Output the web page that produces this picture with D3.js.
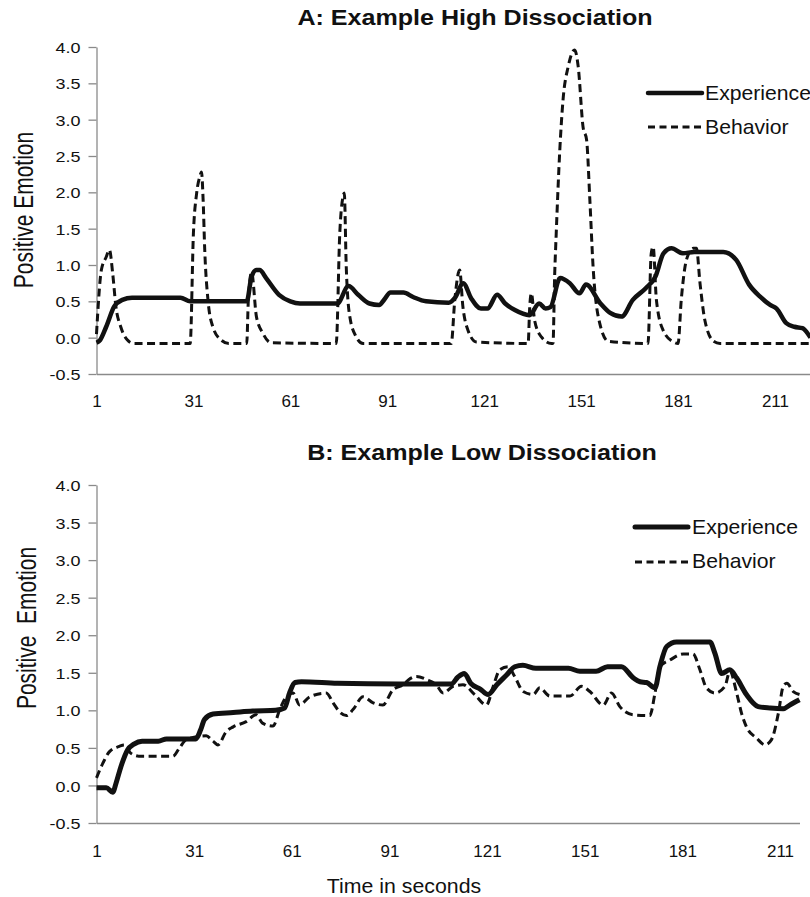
<!DOCTYPE html>
<html>
<head>
<meta charset="utf-8">
<script src="https://cdn.jsdelivr.net/npm/d3@7"></script>
<style>
  html, body { margin: 0; padding: 0; background: #fff; }
  svg { display: block; font-family: "Liberation Sans", Arial, sans-serif; }
</style>
</head>
<body>
<div id="chart"></div>
<script>
// tick labels
const xTicks = [1, 31, 61, 91, 121, 151, 181, 211];
const yTicks = [-0.5, 0, 0.5, 1, 1.5, 2, 2.5, 3, 3.5, 4];
const seriesNames = ["Experience", "Behavior"];

// Panel A: [second, positive emotion]
const experienceA = [
  [1,-0.07],[2,-0.04],[4,0.15],[6.5,0.43],[9,0.52],[12,0.55],[27,0.55],[30,0.5],[47.5,0.5],
  [49,0.84],[50.5,0.93],[51.5,0.93],[53.5,0.82],[57.5,0.59],[61,0.5],[64,0.47],[75.5,0.47],
  [79,0.71],[82,0.59],[85.5,0.47],[88.5,0.45],[90,0.52],[92,0.62],[96,0.62],[99,0.56],[103,0.5],
  [110,0.48],[112,0.55],[114.5,0.75],[117,0.54],[120,0.4],[122,0.4],[125,0.59],[127.5,0.47],
  [130.5,0.38],[135,0.31],[138,0.47],[140,0.4],[141.5,0.42],[144.5,0.82],[147.5,0.75],
  [150.5,0.61],[152.5,0.73],[157,0.47],[160,0.34],[163.5,0.29],[167,0.52],[171,0.68],
  [174,0.84],[176.5,1.16],[179,1.23],[182.5,1.16],[186,1.18],[195,1.18],[199,1.07],[203,0.73],
  [206.5,0.56],[209.5,0.45],[211.5,0.4],[214.5,0.2],[217,0.15],[219.5,0.13],[222,0.0]
];
const behaviorA = [
  [1,0.05],[2.5,0.93],[4,1.11],[5,1.21],[6,0.89],[7,0.43],[8.5,0.15],[10.5,-0.03],[12.5,-0.08],
  [30,-0.08],[31,1.44],[32,1.99],[33,2.22],[33.5,2.28],[34,1.9],[34.5,1.21],[35.5,0.52],[37,0.15],
  [39.5,-0.03],[42,-0.08],[47.5,-0.08],[48,0.52],[49,0.9],[50.5,0.29],[52.5,0.06],[55,-0.07],
  [75.2,-0.08],[76.3,1.44],[77.3,1.94],[77.7,1.99],[78.3,0.98],[79.4,0.29],[81.4,0.01],[83.5,-0.08],
  [110.8,-0.08],[111.9,0.52],[113.4,0.93],[114.4,0.43],[116,0.1],[118.6,-0.06],
  [134.6,-0.08],[135.1,0.43],[135.6,0.61],[136.6,0.24],[138.7,0.01],[141.8,-0.08],[142.3,-0.08],
  [142.8,0.84],[143.3,1.44],[144.4,2.58],[145.4,3.27],[147,3.73],[149,3.96],[150.1,3.73],
  [151.6,2.9],[152.7,2.72],[153.7,1.9],[154.7,0.98],[156.3,0.29],[159.4,-0.05],
  [171.7,-0.08],[172.7,1.16],[173.3,1.25],[174.3,0.52],[176.4,0.1],[179.6,-0.06],[181,-0.08],
  [182,0.52],[183.6,1.07],[185.7,1.23],[186.7,1.23],[187.8,0.75],[189.3,0.24],[192,-0.05],
  [194,-0.08],[222,-0.08]
];

// Panel B
const experienceB = [
  [1,-0.03],[4,-0.03],[6,-0.09],[7,0.03],[8.5,0.25],[10.5,0.47],[12.5,0.55],[15,0.59],[20,0.59],
  [22.5,0.62],[31.5,0.62],[33,0.74],[34.2,0.88],[36.8,0.95],[43,0.97],[49,0.99],[56,1.0],
  [58.8,1.03],[60.3,1.23],[62,1.37],[64,1.38],[75,1.36],[94,1.35],[110,1.35],[112,1.44],
  [114,1.49],[116,1.36],[119,1.28],[121.3,1.21],[124,1.34],[127,1.47],[129.5,1.58],[132,1.6],
  [136,1.56],[146,1.56],[149.5,1.52],[154.5,1.52],[158,1.58],[162.3,1.58],[166,1.43],[168,1.38],
  [170,1.37],[172.6,1.3],[174.1,1.58],[176.2,1.85],[179.2,1.91],[189.5,1.91],[191,1.76],
  [193.1,1.49],[195.6,1.54],[197.7,1.43],[200.7,1.21],[204.3,1.05],[208,1.03],[212,1.02],
  [214,1.07],[217,1.14]
];
const behaviorB = [
  [1,0.1],[3,0.3],[5,0.45],[8,0.52],[9.5,0.54],[11.5,0.43],[14,0.39],[24.5,0.39],[26.5,0.5],
  [28.6,0.61],[34.7,0.66],[36.8,0.59],[38.3,0.54],[40.9,0.72],[43,0.78],[47,0.85],[50,0.94],
  [52,0.83],[55.2,0.79],[57.3,1.01],[59.3,1.18],[61.4,1.23],[63.4,1.07],[66.5,1.18],[71.6,1.23],
  [73.7,1.1],[75.7,0.98],[77.8,0.93],[79.8,1.01],[82.9,1.18],[86,1.1],[89,1.07],[92,1.27],
  [95.2,1.34],[97,1.41],[99.3,1.45],[102.4,1.41],[105.4,1.34],[107.5,1.23],[110.6,1.32],
  [113.6,1.34],[117.2,1.21],[120.8,1.07],[122.9,1.32],[124.9,1.54],[127.5,1.58],[129.5,1.45],
  [132.1,1.25],[135.2,1.21],[137.2,1.3],[140.3,1.19],[146.5,1.19],[150,1.32],[152.6,1.25],
  [156.7,1.07],[159.2,1.23],[161.8,1.05],[165.9,0.94],[171,0.93],[172.6,1.23],[174.1,1.58],
  [177.2,1.67],[181.3,1.75],[184.3,1.75],[186.4,1.54],[188.4,1.3],[191,1.23],[194.1,1.32],
  [195.6,1.52],[197.7,1.23],[199.2,0.96],[200.7,0.78],[203.8,0.63],[206.4,0.54],[208.4,0.61],
  [210.5,0.96],[212,1.32],[213.1,1.36],[215.1,1.25],[217,1.21]
];

const width = 810, height = 897;
const axisColor = "#8a8a8a";
const ink = "#111";

const svg = d3.select("#chart").append("svg")
    .attr("width", width)
    .attr("height", height);

svg.append("rect").attr("width", width).attr("height", height).attr("fill", "#fff");

// text that is stretched a bit horizontally like the source image
function addText(g, str, x, y, size, opts = {}) {
    const sx = opts.sx || 1;
    let tr = `translate(${x},${y}) scale(${sx},1)`;
    if (opts.rotate) tr += ` rotate(${opts.rotate})`;
    return g.append("text")
        .attr("transform", tr)
        .attr("text-anchor", opts.anchor || "start")
        .style("font-size", size + "px")
        .style("font-weight", opts.weight || "normal")
        .style("white-space", "pre")
        .attr("fill", "#111")
        .text(str);
}

const panels = [
    {
        title: "A: Example High Dissociation", titleX: 475, titleY: 25,
        exp: experienceA, beh: behaviorA,
        xMax: 222, xRange: [96.5, 810.5], yRange: [374, 47],
        xLabelDy: 33,
        yLabel: "Positive Emotion", yLabelX: 33, yLabelY: 210,
        legendX: [648, 702], legendY: [93, 127], legendTextX: 705, legendTextY: [100, 134],
        expWidth: 4.5
    },
    {
        title: "B: Example Low Dissociation", titleX: 482, titleY: 460,
        exp: experienceB, beh: behaviorB,
        xMax: 217, xRange: [96.5, 799.5], yRange: [823, 485],
        xLabelDy: 34,
        yLabel: "Positive  Emotion", yLabelX: 36, yLabelY: 628,
        legendX: [635, 688], legendY: [527, 562], legendTextX: 692, legendTextY: [534, 568],
        expWidth: 5
    }
];

panels.forEach(p => {
    const g = svg.append("g");

    const x = d3.scaleLinear().domain([1, p.xMax]).range(p.xRange);
    const y = d3.scaleLinear().domain([-0.5, 4]).range(p.yRange);

    // y axis
    const yAxisG = g.append("g")
        .attr("transform", `translate(${p.xRange[0]},0)`)
        .call(d3.axisLeft(y).tickValues(yTicks).tickSize(8).tickSizeOuter(0)
            .tickFormat(d => d.toFixed(1)));
    yAxisG.select(".domain").attr("stroke", axisColor).attr("stroke-width", 1.3);
    yAxisG.selectAll(".tick line").attr("stroke", axisColor).attr("stroke-width", 1.3);
    yAxisG.selectAll(".tick text")
        .attr("x", 0)
        .attr("dy", "0.36em")
        .attr("transform", "translate(-16,0) scale(1.16,1)")
        .attr("fill", "#111")
        .style("font-size", "15.5px")
        .style("font-family", "'Liberation Sans', Arial, sans-serif");

    // x axis
    const xAxisG = g.append("g")
        .attr("transform", `translate(0,${y(-0.5)})`)
        .call(d3.axisBottom(x).tickValues(xTicks).tickSize(0).tickFormat(d => String(d)));
    xAxisG.select(".domain").attr("stroke", axisColor).attr("stroke-width", 1.3);
    xAxisG.selectAll(".tick text")
        .attr("y", 0)
        .attr("dy", 0)
        .attr("transform", `translate(0,${p.xLabelDy})`)
        .attr("fill", "#111")
        .style("font-size", "17px")
        .style("font-family", "'Liberation Sans', Arial, sans-serif");

    // lines
    const line = d3.line()
        .x(d => x(d[0]))
        .y(d => y(d[1]))
        .curve(d3.curveMonotoneX);

    g.append("path")
        .datum(p.beh)
        .attr("fill", "none")
        .attr("stroke", ink)
        .attr("stroke-width", 3)
        .attr("stroke-dasharray", "8,4.5")
        .attr("d", line);

    g.append("path")
        .datum(p.exp)
        .attr("fill", "none")
        .attr("stroke", ink)
        .attr("stroke-width", p.expWidth)
        .attr("stroke-linejoin", "round")
        .attr("d", line);

    // title + axis label
    addText(g, p.title, p.titleX, p.titleY, 22, {anchor: "middle", weight: "bold", sx: 1.14});
    addText(g, p.yLabel, p.yLabelX, p.yLabelY, 21, {anchor: "middle", rotate: -90, sx: 1.3});

    // legend
    const lg = g.append("g");
    lg.append("line")
        .attr("x1", p.legendX[0]).attr("x2", p.legendX[1])
        .attr("y1", p.legendY[0]).attr("y2", p.legendY[0])
        .attr("stroke", ink).attr("stroke-width", p.expWidth).attr("stroke-linecap", "round");
    lg.append("line")
        .attr("x1", p.legendX[0]).attr("x2", p.legendX[1])
        .attr("y1", p.legendY[1]).attr("y2", p.legendY[1])
        .attr("stroke", ink).attr("stroke-width", 3).attr("stroke-dasharray", "7,4.5");
    seriesNames.forEach((name, i) => {
        addText(lg, name, p.legendTextX, p.legendTextY[i], 20, {sx: 1.06});
    });
});

addText(svg, "Time in seconds", 404, 893, 20, {anchor: "middle", sx: 1.065});
</script>
</body>
</html>
